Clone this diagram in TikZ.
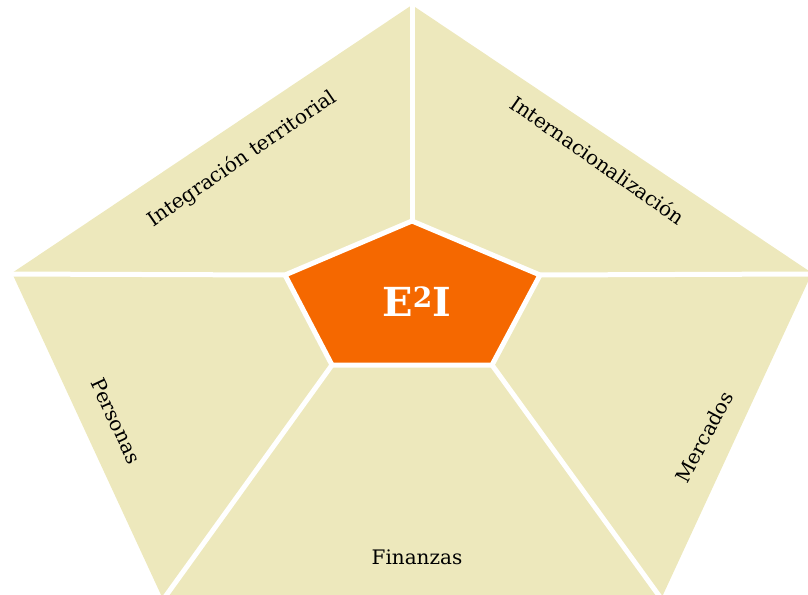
\documentclass[tikz,border=0pt]{standalone}
\usepackage{fontspec}
\setmainfont{DejaVu Serif}
\usetikzlibrary{positioning}

\definecolor{arena}{HTML}{EDE8BC}
\definecolor{naranja}{HTML}{F56800}

\begin{document}
\begin{tikzpicture}[
    x=1pt, y=-1pt,
    sep/.style={draw=white, line width=5pt},
    eje/.style={font=\fontsize{20}{22}\selectfont, text=black, inner sep=0pt},
    centro/.style={font=\bfseries\fontsize{40}{44}\selectfont, text=white}
]
\useasboundingbox (0,0) rectangle (808,594);
\clip (0,0) rectangle (808,594);

% outer pentagon
\coordinate (oT)  at (412,5);
\coordinate (oR)  at (812,273);
\coordinate (oBR) at (662,597);
\coordinate (oBL) at (162,597);
\coordinate (oL)  at (12,273);
% inner pentagon
\coordinate (iT)  at (412,221);
\coordinate (iR)  at (540,275);
\coordinate (iBR) at (492,365);
\coordinate (iBL) at (332,365);
\coordinate (iL)  at (285,275);

\fill[arena] (oT) -- (oR) -- (oBR) -- (oBL) -- (oL) -- cycle;

% white gaps between the five sectors
\draw[sep] (iT) -- (412,0);
\draw[sep] (iL) -- (0,274);
\draw[sep] (iR) -- (808,274);
\draw[sep] (iBL) -- (165,597);
\draw[sep] (iBR) -- (660,597);

\filldraw[naranja, sep, fill=naranja, line join=miter]
    (iT) -- (iR) -- (iBR) -- (iBL) -- (iL) -- cycle;

\node[centro] (core) at (417,302) {E\textsuperscript{2}I};

\node[eje, rotate=34.5]  (territorio) at (242,159) {Integración territorial};
\node[eje, rotate=-35]   (inter)      at (598,160) {Internacionalización};
\node[eje, rotate=-65]   (personas)   at (116,421) {Personas};
\node[eje, rotate=62]    (mercados)   at (704,437) {Mercados};
\node[eje]               (finanzas)   at (417,557) {Finanzas};
\end{tikzpicture}
\end{document}
